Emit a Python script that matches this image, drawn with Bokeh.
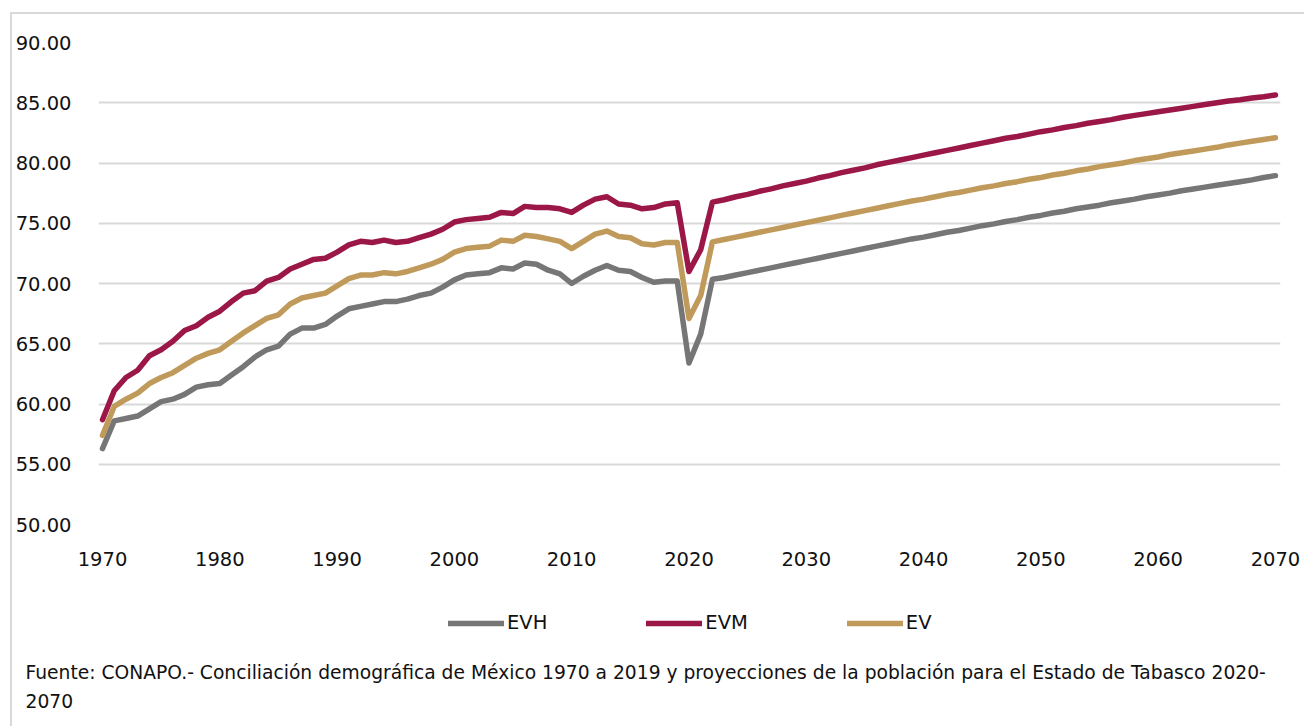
from bokeh.plotting import figure
from bokeh.layouts import column
from bokeh.models import (ColumnDataSource, Legend, LegendItem, Label, FixedTicker,
                          PrintfTickFormatter, Range1d)
from bokeh.embed import file_html
from bokeh.resources import INLINE

years = list(range(1970, 2071))

evh = [56.3, 58.6, 58.8, 59.0, 59.6, 60.2, 60.4, 60.8, 61.4, 61.6,
       61.7, 62.4, 63.1, 63.9, 64.5, 64.8, 65.8, 66.3, 66.3, 66.6,
       67.3, 67.9, 68.1, 68.3, 68.5, 68.5, 68.7, 69.0, 69.2, 69.7,
       70.3, 70.7, 70.8, 70.9, 71.3, 71.2, 71.7, 71.6, 71.1, 70.8,
       70.0, 70.6, 71.1, 71.5, 71.1, 71.0, 70.5, 70.1, 70.2, 70.2,
       63.4, 65.8, 70.35, 70.5, 70.7, 70.9, 71.1, 71.3, 71.5, 71.7,
       71.9, 72.1, 72.3, 72.5, 72.7, 72.9, 73.1, 73.3, 73.5, 73.7,
       73.85, 74.05, 74.25, 74.4, 74.6, 74.8, 74.95, 75.15, 75.3, 75.5,
       75.65, 75.85, 76.0, 76.2, 76.35, 76.5, 76.7, 76.85, 77.0, 77.2,
       77.35, 77.5, 77.7, 77.85, 78.0, 78.15, 78.3, 78.45, 78.6, 78.8,
       78.95]

evm = [58.7, 61.1, 62.2, 62.8, 64.0, 64.5, 65.2, 66.1, 66.5, 67.2,
       67.7, 68.5, 69.2, 69.4, 70.2, 70.5, 71.2, 71.6, 72.0, 72.1,
       72.6, 73.2, 73.5, 73.4, 73.6, 73.4, 73.5, 73.8, 74.1, 74.5,
       75.1, 75.3, 75.4, 75.5, 75.9, 75.8, 76.4, 76.3, 76.3, 76.2,
       75.9, 76.5, 77.0, 77.2, 76.6, 76.5, 76.2, 76.3, 76.6, 76.7,
       71.0, 72.8, 76.75, 76.95, 77.2, 77.4, 77.65, 77.85, 78.1, 78.3,
       78.5, 78.75, 78.95, 79.2, 79.4, 79.6, 79.85, 80.05, 80.25, 80.45,
       80.65, 80.85, 81.05, 81.25, 81.45, 81.65, 81.85, 82.05, 82.2, 82.4,
       82.6, 82.75, 82.95, 83.1, 83.3, 83.45, 83.6, 83.8, 83.95, 84.1,
       84.25, 84.4, 84.55, 84.7, 84.85, 85.0, 85.15, 85.25, 85.4, 85.5,
       85.65]

ev = [57.4, 59.8, 60.4, 60.9, 61.7, 62.2, 62.6, 63.2, 63.8, 64.2,
      64.5, 65.2, 65.9, 66.5, 67.1, 67.4, 68.3, 68.8, 69.0, 69.2,
      69.8, 70.4, 70.7, 70.7, 70.9, 70.8, 71.0, 71.3, 71.6, 72.0,
      72.6, 72.9, 73.0, 73.1, 73.6, 73.5, 74.0, 73.9, 73.7, 73.5,
      72.9, 73.5, 74.1, 74.35, 73.9, 73.8, 73.3, 73.2, 73.4, 73.4,
      67.1, 69.0, 73.45, 73.65, 73.85, 74.05, 74.25, 74.45, 74.65, 74.85,
      75.05, 75.25, 75.45, 75.65, 75.85, 76.05, 76.25, 76.45, 76.65, 76.85,
      77.0, 77.2, 77.4, 77.55, 77.75, 77.95, 78.1, 78.3, 78.45, 78.65,
      78.8, 79.0, 79.15, 79.35, 79.5, 79.7, 79.85, 80.0, 80.2, 80.35,
      80.5, 80.7, 80.85, 81.0, 81.15, 81.3, 81.5, 81.65, 81.8, 81.95,
      82.1]

series_names = ["EVH", "EVM", "EV"]
series_colors = ["#767676", "#9b1747", "#c09a5b"]
x_ticks = list(range(1970, 2071, 10))
y_ticks = [50, 55, 60, 65, 70, 75, 80, 85, 90]
source_line1 = ("Fuente: CONAPO.- Conciliación demográfica de México 1970 a 2019 y "
                "proyecciones de la población para el Estado de Tabasco 2020-")
source_line2 = "2070"

FONT = "DejaVu Sans"
TXT = "#111111"
LW = 5.5

src = ColumnDataSource(dict(year=years, EVH=evh, EVM=evm, EV=ev))

# ---- main chart ----
p = figure(width=1292, height=566, output_backend="svg", toolbar_location=None,
           x_range=Range1d(1969.66, 2070.43), y_range=Range1d(50, 90),
           min_border_left=85, min_border_right=24, min_border_top=28,
           min_border_bottom=56)
p.frame_align = False
p.outline_line_color = None
p.border_fill_color = "white"

for name, col in zip(series_names, series_colors):
    p.line("year", name, source=src, line_color=col, line_width=LW,
           line_cap="round", line_join="round")

p.xgrid.grid_line_color = None
p.ygrid.grid_line_color = "#d9d9d9"
p.ygrid.grid_line_width = 2

p.xaxis.ticker = FixedTicker(ticks=x_ticks)
p.yaxis.ticker = FixedTicker(ticks=y_ticks)
p.yaxis.formatter = PrintfTickFormatter(format="%.2f")
for ax in (p.xaxis, p.yaxis):
    ax.axis_line_color = None
    ax.major_tick_line_color = None
    ax.minor_tick_line_color = None
    ax.major_tick_out = 0
    ax.major_tick_in = 0
    ax.minor_tick_out = 0
    ax.minor_tick_in = 0
    ax.major_label_text_font = FONT
    ax.major_label_text_font_size = "19.5px"
    ax.major_label_text_color = TXT
p.yaxis.major_label_standoff = 27
p.xaxis.major_label_standoff = 27

# ---- legend + source strip ----
p2 = figure(width=1292, height=146, output_backend="svg", toolbar_location=None,
            x_range=Range1d(0, 1), y_range=Range1d(0, 1),
            x_axis_type=None, y_axis_type=None,
            min_border_left=0, min_border_right=0, min_border_top=0, min_border_bottom=0)
p2.frame_align = False
p2.outline_line_color = None
p2.xgrid.grid_line_color = None
p2.ygrid.grid_line_color = None

# legend key renderers (no visible data; they only carry the legend styling)
key_renderers = []
for name, col in zip(series_names, series_colors):
    r = p2.line(x=[float("nan")], y=[float("nan")], line_color=col, line_width=LW,
                line_cap="round")
    key_renderers.append(r)

legend = Legend(items=[LegendItem(label=n, renderers=[r]) for n, r in zip(series_names, key_renderers)],
                orientation="horizontal", location=(436, 92),
                glyph_width=56, glyph_height=20, label_standoff=3, spacing=99,
                label_text_font=FONT, label_text_font_size="19.5px", label_text_color=TXT,
                margin=0, padding=0, border_line_alpha=0, background_fill_alpha=0)
p2.add_layout(legend, "center")

for txt, yy in ((source_line1, 54), (source_line2, 26)):
    p2.add_layout(Label(x=13, y=yy, x_units="screen", y_units="screen", text=txt,
                        text_font=FONT, text_font_size="18.7px", text_color=TXT,
                        text_baseline="middle"))

lay = column(p, p2, spacing=0,
             styles={"border-left": "2px solid #d9d9d9", "border-top": "2px solid #d9d9d9",
                     "margin-left": "10px", "margin-top": "12px"})

open("out.html", "w").write(file_html(lay, INLINE))
